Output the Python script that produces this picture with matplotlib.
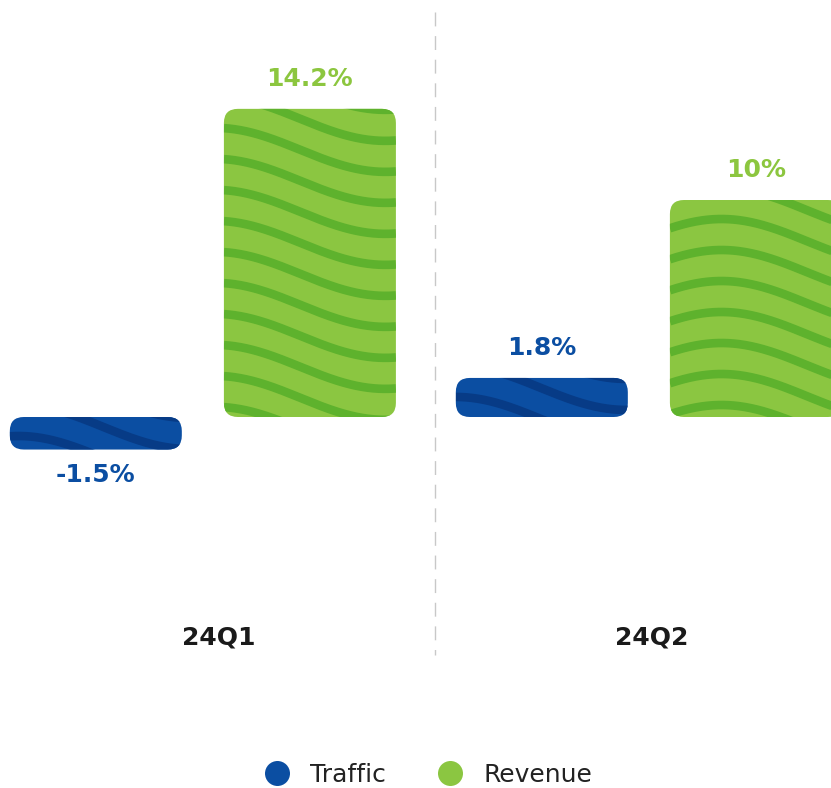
import numpy as np
import matplotlib.pyplot as plt
from matplotlib.patches import FancyBboxPatch
from matplotlib.lines import Line2D

# ---- data ----
quarters = ['24Q1', '24Q2']
series = ['Traffic', 'Revenue']
traffic = [-1.5, 1.8]
revenue = [14.2, 10.0]

# ---- style ----
blue, blue_dark = '#0b4ea2', '#073b86'
green, green_dark = '#8bc641', '#5eb22d'
label_blue, label_green = '#0b4ea2', '#8cc63f'

PX_X = 446.0   # pixels per group
PX_Y = 21.7    # pixels per percent

plt.rcParams['font.family'] = ['DejaVu Sans']

fig = plt.figure(figsize=(8.31, 7.88), dpi=100)
ax = fig.add_axes([0, 0, 1, 1])
ax.set_xlim(-210 / PX_X, (831 - 210) / PX_X)
ax.set_ylim(-371 / PX_Y, 417 / PX_Y)
ax.axis('off')

x = np.arange(len(quarters))
width = 172 / PX_X
offsets = [-0.256, 0.224]


def wavy_bar(rect, base, stripe, peak):
    # rounded bar with a wavy stripe texture clipped inside it
    x0, y0 = rect.get_x(), rect.get_y()
    w, h = rect.get_width(), rect.get_height()
    if h < 0:
        y0, h = y0 + h, -h
    r = min(14, h * PX_Y / 2 - 2)
    patch = FancyBboxPatch((x0, y0), w, h,
                           boxstyle='round,pad=0,rounding_size={}'.format(r / PX_X),
                           mutation_aspect=PX_X / PX_Y,
                           facecolor=base, edgecolor='none', zorder=2)
    ax.add_patch(patch)
    rect.set_visible(False)
    u = np.linspace(0, w * PX_X, 200)
    top_px = (y0 + h) * PX_Y
    shape = 22 * np.cos(2 * np.pi * (u - peak * w * PX_X) / 340)
    for k in range(-3, int(h * PX_Y / 31) + 5):
        yy = (top_px - 10 - k * 31 + shape) / PX_Y
        ln = ax.plot(x0 + u / PX_X, yy, color=stripe, lw=6.2,
                     solid_capstyle='butt', zorder=3)[0]
        ln.set_clip_path(patch)


bars_t = ax.bar(x + offsets[0], traffic, width, color=blue)
bars_r = ax.bar(x + offsets[1], revenue, width, color=green)
for b, pk in zip(bars_t, [0.05, 0.0]):
    wavy_bar(b, blue, blue_dark, pk)
for b, pk in zip(bars_r, [-0.05, 0.3]):
    wavy_bar(b, green, green_dark, pk)

# value labels
for bars, vals, col in [(bars_t, traffic, label_blue), (bars_r, revenue, label_green)]:
    for b, v in zip(bars, vals):
        cx = b.get_x() + b.get_width() / 2
        if v >= 0:
            ty = v + 30 / PX_Y
        else:
            ty = v - 25 / PX_Y
        ax.text(cx, ty, '{:g}%'.format(v), ha='center', va='center',
                fontsize=18, fontweight='bold', color=col, zorder=4)

# group labels
for xi, q in zip(x, quarters):
    ax.text(0.97 * xi + 0.02, -220 / PX_Y, q, ha='center', va='center',
            fontsize=18, fontweight='bold', color='#1a1a1a')

# dashed divider
ax.plot([0.505, 0.505], [(417 - 12) / PX_Y, (417 - 655) / PX_Y], color='#c8c8c8',
        lw=1, dashes=(10, 7), zorder=1)

# legend
handles = [Line2D([], [], marker='o', ls='none', markersize=18,
                  markerfacecolor=c, markeredgecolor='none')
           for c in [blue, green]]
fig.legend(handles, series, loc='center', bbox_to_anchor=(0.508, 0.017),
           ncol=2, frameon=False, fontsize=18, handletextpad=0.35,
           columnspacing=1.55, labelcolor='#222222')

fig.savefig('out.png', dpi=100)
